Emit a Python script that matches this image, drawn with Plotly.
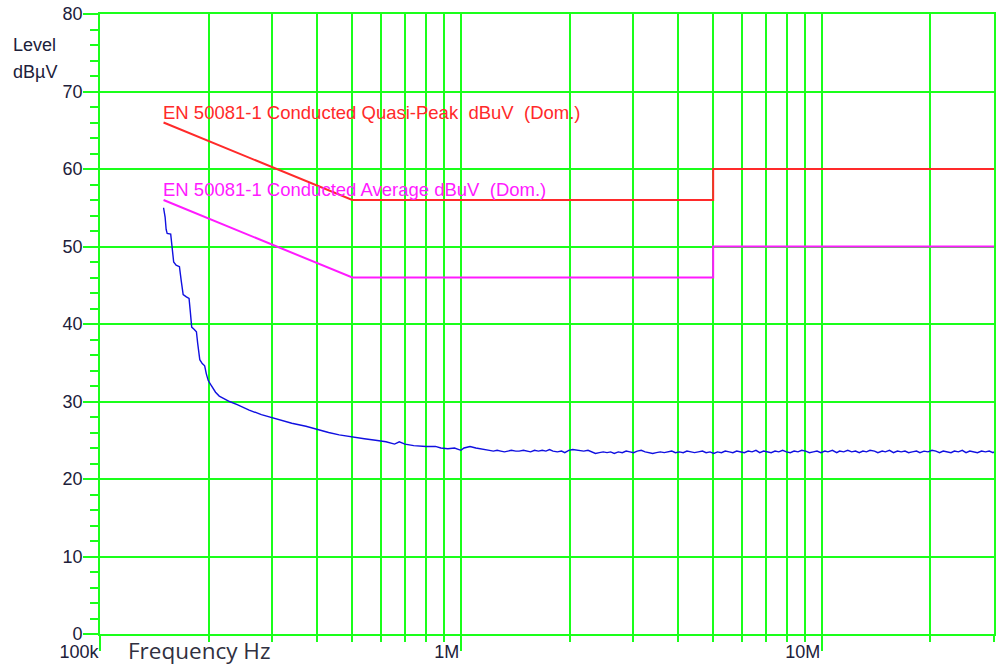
import math
import plotly.graph_objects as go

# ---------------- data ----------------
# measured trace (frequency in MHz, level in dBuV)
blue_freq = [
    0.150, 0.1515, 0.1525, 0.1535, 0.157, 0.1585, 0.160, 0.1625, 0.166, 0.168,
    0.170, 0.1735, 0.1765, 0.178, 0.1795, 0.1825, 0.185, 0.1865, 0.189, 0.192,
    0.195, 0.197, 0.1995, 0.2025, 0.2055, 0.209, 0.214, 0.220, 0.2285, 0.240,
    0.259, 0.280, 0.301, 0.314, 0.340, 0.372, 0.405, 0.430, 0.460, 0.500,
    0.540, 0.580, 0.620, 0.655, 0.675, 0.700, 0.740, 0.800, 0.850, 0.880,
    0.920, 0.960, 1.000, 1.020, 1.060, 1.100, 1.150,
    1.2, 1.23, 1.26, 1.29, 1.32, 1.35, 1.38, 1.42, 1.45, 1.49,
    1.52, 1.56, 1.6, 1.64, 1.68, 1.72, 1.76, 1.8, 1.85, 1.9,
    1.94, 1.99, 2.04, 2.09, 2.14, 2.19, 2.25, 2.3, 2.36, 2.42,
    2.48, 2.54, 2.6, 2.66, 2.73, 2.8, 2.87, 2.94, 3.01, 3.08,
    3.16, 3.24, 3.32, 3.4, 3.48, 3.57, 3.66, 3.75, 3.84, 3.93,
    4.03, 4.13, 4.23, 4.34, 4.44, 4.55, 4.67, 4.78, 4.9, 5.02,
    5.14, 5.27, 5.4, 5.54, 5.67, 5.81, 5.96, 6.1, 6.25, 6.41,
    6.57, 6.73, 6.9, 7.07, 7.24, 7.42, 7.6, 7.79, 7.98, 8.18,
    8.38, 8.59, 8.8, 9.02, 9.24, 9.47, 9.7, 9.94, 10.2, 10.4,
    10.7, 11.0, 11.2, 11.5, 11.8, 12.1, 12.4, 12.7, 13.0, 13.3,
    13.6, 14.0, 14.3, 14.7, 15.0, 15.4, 15.8, 16.2, 16.6, 17.0,
    17.4, 17.8, 18.3, 18.7, 19.2, 19.7, 20.2, 20.7, 21.2, 21.7,
    22.2, 22.8, 23.3, 23.9, 24.5, 25.1, 25.7, 26.4, 27.0, 27.7,
    28.4, 29.1, 29.8, 30.0,
]
blue_level = [
    55.0, 53.8, 52.2, 51.7, 51.6, 50.0, 48.0, 47.6, 47.4, 45.5,
    43.8, 43.5, 43.3, 41.5, 39.6, 39.3, 39.0, 37.5, 35.4, 34.9,
    34.6, 33.6, 32.7, 32.2, 31.7, 31.2, 30.7, 30.4, 30.0, 29.6,
    28.9, 28.3, 27.9, 27.6, 27.2, 26.8, 26.3, 26.0, 25.7, 25.4,
    25.2, 25.0, 24.8, 24.5, 24.8, 24.5, 24.3, 24.2, 24.2, 24.0,
    23.9, 24.0, 23.7, 24.0, 24.2, 24.0, 23.8,
    23.7, 23.6, 23.7, 23.6, 23.5, 23.6, 23.7, 23.6, 23.6, 23.7,
    23.6, 23.5, 23.7, 23.6, 23.7, 23.6, 23.8, 23.6, 23.5, 23.6,
    23.4, 23.7, 23.8, 23.7, 23.7, 23.6, 23.7, 23.5, 23.3, 23.4,
    23.5, 23.4, 23.5, 23.3, 23.5, 23.4, 23.6, 23.5, 23.4, 23.6,
    23.7, 23.5, 23.4, 23.3, 23.4, 23.5, 23.4, 23.5, 23.6, 23.4,
    23.5, 23.4, 23.6, 23.5, 23.4, 23.5, 23.6, 23.4, 23.5, 23.3,
    23.5, 23.4, 23.6, 23.5, 23.4, 23.6, 23.5, 23.4, 23.6, 23.5,
    23.7, 23.4, 23.6, 23.5, 23.4, 23.6, 23.5, 23.7, 23.5, 23.4,
    23.6, 23.5, 23.7, 23.6, 23.4, 23.5, 23.6, 23.4, 23.6, 23.5,
    23.7, 23.4, 23.6, 23.5, 23.7, 23.5, 23.6, 23.4, 23.6, 23.5,
    23.7, 23.6, 23.4, 23.6, 23.5, 23.7, 23.4, 23.6, 23.5, 23.6,
    23.4, 23.5, 23.6, 23.4, 23.6, 23.5, 23.7, 23.6, 23.4, 23.6,
    23.5, 23.4, 23.6, 23.5, 23.7, 23.4, 23.6, 23.5, 23.4, 23.6,
    23.5, 23.6, 23.4, 23.5,
]

# limit lines
qp_freq = [0.15, 0.5, 5.0, 5.0, 30.0]
qp_level = [66, 56, 56, 60, 60]
av_freq = [0.15, 0.5, 5.0, 5.0, 30.0]
av_level = [56, 46, 46, 50, 50]
qp_label = "EN 50081-1 Conducted Quasi-Peak \u00a0dBuV \u00a0(Dom.)"
av_label = "EN 50081-1 Conducted Average dBuV \u00a0(Dom.)"

# axes
x_tickvals = [0.1, 1, 10]
x_ticktext = ["100k", "1M", "10M"]
x_minor_vals = [0.2, 0.3, 0.4, 0.5, 0.6, 0.7, 0.8, 0.9,
                2, 3, 4, 5, 6, 7, 8, 9, 20, 30]
x_range_mhz = [0.1, 30]
y_range = [0, 80]
y_tickvals = [0, 10, 20, 30, 40, 50, 60, 70, 80]
x_title = "Frequency Hz"
y_title_lines = ["Level", "dB\u00b5V"]

# ---------------- styles ----------------
GREEN = "#1aff1a"
TXT = "#20203a"
FONT = "Liberation Sans, Arial, sans-serif"

fig = go.Figure()
fig.add_trace(go.Scatter(x=qp_freq, y=qp_level, mode="lines",
                         line=dict(color="#ff2a2a", width=2), showlegend=False))
fig.add_trace(go.Scatter(x=av_freq, y=av_level, mode="lines",
                         line=dict(color="#ff1aff", width=2), showlegend=False))
fig.add_trace(go.Scatter(x=blue_freq, y=blue_level, mode="lines",
                         line=dict(color="#1010e0", width=1.4), showlegend=False))

fig.update_layout(
    width=996, height=668,
    margin=dict(l=100, r=0, t=14, b=34),
    paper_bgcolor="white", plot_bgcolor="white",
    font=dict(family=FONT, size=18, color=TXT),
    xaxis=dict(
        type="log",
        range=[math.log10(x_range_mhz[0]), math.log10(x_range_mhz[1])],
        tickmode="array", tickvals=x_tickvals, ticktext=x_ticktext,
        ticks="outside", ticklen=15, tickwidth=1.5, tickcolor=GREEN,
        ticklabelposition="outside left", ticklabelstandoff=1,
        showgrid=True, gridcolor=GREEN, gridwidth=1.6,
        showline=True, linecolor=GREEN, linewidth=1.6, mirror=True,
        zeroline=False,
        minor=dict(tickmode="array", tickvals=x_minor_vals, ticks="outside",
                   ticklen=6, tickwidth=1.5, tickcolor=GREEN,
                   showgrid=True, gridcolor=GREEN, gridwidth=1.6),
        tickfont=dict(family=FONT, size=18, color=TXT),
    ),
    yaxis=dict(
        range=y_range,
        tickmode="array", tickvals=y_tickvals,
        ticks="outside", ticklen=15, tickwidth=1.5, tickcolor=GREEN,
        ticklabelstandoff=-3,
        showgrid=True, gridcolor=GREEN, gridwidth=1.6,
        showline=True, linecolor=GREEN, linewidth=1.6, mirror=True,
        zeroline=False,
        minor=dict(dtick=2, ticks="outside", ticklen=8, tickwidth=1.5,
                   tickcolor=GREEN, showgrid=False),
        tickfont=dict(family=FONT, size=18, color=TXT),
    ),
)

annotations = [
    dict(text=qp_label, xref="x", yref="y", x=math.log10(qp_freq[0]), y=67.3,
         xanchor="left", yanchor="middle", showarrow=False, xshift=-3,
         font=dict(family=FONT, size=18.5, color="#ff2a2a")),
    dict(text=av_label, xref="x", yref="y", x=math.log10(av_freq[0]), y=57.3,
         xanchor="left", yanchor="middle", showarrow=False, xshift=-3,
         font=dict(family=FONT, size=18.5, color="#ff1aff")),
    dict(text=x_title, xref="paper", yref="paper", x=0.029, y=-0.0548,
         xanchor="left", yanchor="bottom", showarrow=False,
         font=dict(family="Open Sans, sans-serif", size=22.5, color="#303040")),
    dict(text=y_title_lines[0], xref="paper", yref="paper", x=-0.1, y=0.95,
         xanchor="left", yanchor="middle", showarrow=False,
         font=dict(family=FONT, size=18, color=TXT)),
    dict(text=y_title_lines[1], xref="paper", yref="paper", x=-0.1, y=0.906,
         xanchor="left", yanchor="middle", showarrow=False,
         font=dict(family=FONT, size=18, color=TXT)),
]
fig.update_layout(annotations=annotations)

fig.write_html("out.html")
